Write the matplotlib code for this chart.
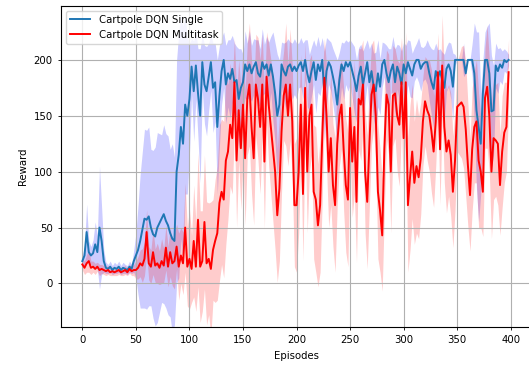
import matplotlib.pyplot as plt
import numpy as np

# Episode index (every second episode logged)
episodes = np.arange(0, 400, 2)

# Mean reward per logged episode
single_mean = [
    20, 25, 46, 28, 25, 27, 35, 28, 50, 38,
    20, 14, 13, 15, 12, 14, 13, 15, 12, 14,
    13, 12, 15, 13, 20, 25, 30, 38, 48, 58,
    57, 60, 50, 44, 42, 50, 54, 58, 62, 56,
    52, 45, 40, 38, 100, 115, 140, 125, 160, 150,
    165, 194, 172, 195, 170, 150, 198, 178, 172, 185,
    198, 175, 180, 140, 168, 190, 200, 178, 188, 183,
    192, 180, 182, 165, 175, 180, 196, 190, 196, 188,
    194, 198, 188, 185, 198, 192, 196, 186, 196, 185,
    170, 150, 160, 196, 190, 186, 194, 196, 190, 194,
    190, 195, 198, 190, 200, 188, 180, 190, 198, 182,
    196, 190, 200, 168, 190, 198, 194, 185, 175, 160,
    182, 196, 190, 198, 194, 198, 190, 182, 172, 186,
    194, 178, 188, 198, 180, 190, 176, 172, 188, 176,
    196, 200, 188, 180, 190, 196, 180, 194, 188, 178,
    196, 188, 198, 192, 186, 196, 200, 200, 192, 196,
    198, 198, 188, 180, 174, 190, 184, 190, 182, 175,
    192, 196, 190, 176, 200, 200, 200, 200, 200, 188,
    200, 200, 200, 188, 155, 140, 125, 170, 200, 200,
    188, 154, 155, 195, 190, 196, 193, 200, 198, 200,
]
multi_mean = [
    17, 14, 18, 20, 14, 15, 13, 15, 12, 13,
    12, 11, 12, 10, 11, 10, 11, 12, 10, 11,
    12, 10, 13, 11, 12, 12, 14, 18, 16, 22,
    46, 18, 15, 28, 16, 18, 14, 20, 16, 32,
    15, 28, 18, 20, 33, 15, 25, 18, 50, 15,
    22, 13, 38, 15, 57, 15, 20, 55, 18, 22,
    13, 30, 38, 45, 72, 82, 75, 110, 118, 142,
    130, 180, 110, 155, 121, 160, 112, 165, 178, 140,
    112, 178, 165, 140, 178, 109, 185, 160, 140, 120,
    100, 61, 85, 136, 168, 178, 150, 178, 145, 70,
    70, 100, 160, 80, 175, 100, 150, 160, 82, 75,
    52, 70, 130, 184, 150, 100, 130, 88, 70, 125,
    150, 160, 120, 88, 75, 157, 109, 140, 73, 165,
    160, 178, 100, 73, 124, 169, 178, 150, 82, 65,
    43, 120, 169, 160, 100, 168, 170, 150, 142, 180,
    130, 180, 70, 95, 118, 90, 105, 95, 112, 145,
    163, 155, 150, 136, 118, 145, 189, 120, 195, 140,
    118, 128, 115, 82, 110, 158, 160, 162, 158, 138,
    106, 79, 120, 140, 145, 110, 100, 82, 166, 176,
    150, 100, 130, 128, 125, 88, 118, 135, 140, 189,
]

# Standard deviation over runs
single_std = [
    5, 8, 25, 10, 8, 12, 20, 15, 55, 30,
    10, 5, 4, 5, 4, 5, 4, 5, 4, 5,
    4, 4, 5, 4, 10, 20, 40, 60, 70, 80,
    80, 80, 70, 75, 80, 85, 80, 75, 80, 78,
    80, 75, 85, 75, 100, 110, 100, 105, 80, 70,
    50, 25, 45, 30, 40, 60, 25, 35, 40, 30,
    25, 40, 35, 60, 45, 30, 25, 35, 30, 35,
    30, 35, 30, 45, 35, 25, 30, 25, 30, 25,
    25, 20, 30, 25, 30, 22, 25, 30, 25, 40,
    45, 55, 40, 20, 25, 30, 25, 20, 25, 25,
    25, 20, 22, 25, 18, 30, 25, 22, 20, 30,
    25, 22, 20, 40, 30, 20, 22, 25, 30, 40,
    25, 20, 25, 20, 22, 20, 25, 30, 28, 25,
    20, 30, 25, 20, 30, 25, 30, 35, 30, 25,
    20, 15, 25, 30, 20, 25, 30, 20, 25, 30,
    20, 25, 20, 25, 20, 15, 15, 20, 20, 15,
    15, 20, 25, 30, 35, 25, 25, 20, 25, 30,
    20, 20, 25, 30, 5, 0, 0, 0, 15, 0,
    0, 0, 15, 45, 70, 85, 45, 30, 25, 30,
    45, 50, 40, 20, 20, 15, 15, 10, 10, 5,
]
multi_std = [
    5, 6, 8, 10, 6, 5, 5, 4, 5, 4,
    4, 4, 4, 3, 4, 3, 4, 4, 3, 4,
    4, 3, 4, 4, 5, 8, 10, 12, 15, 15,
    20, 15, 15, 20, 15, 18, 15, 20, 15, 20,
    18, 22, 20, 25, 20, 30, 25, 28, 40, 35,
    45, 30, 50, 40, 60, 50, 45, 60, 55, 50,
    60, 45, 55, 60, 70, 65, 70, 75, 60, 55,
    50, 40, 60, 45, 55, 50, 60, 50, 55, 60,
    60, 45, 55, 60, 45, 60, 40, 55, 60, 65,
    70, 60, 65, 55, 40, 55, 45, 50, 50, 55,
    60, 55, 45, 60, 40, 55, 50, 45, 60, 65,
    55, 60, 55, 35, 45, 50, 60, 55, 60, 55,
    45, 40, 55, 60, 60, 40, 50, 60, 55, 45,
    50, 40, 55, 60, 55, 45, 40, 45, 60, 55,
    50, 55, 40, 45, 55, 45, 40, 50, 55, 40,
    50, 45, 60, 65, 60, 55, 60, 55, 50, 40,
    40, 45, 50, 55, 50, 40, 35, 50, 45, 50,
    55, 50, 55, 50, 45, 40, 45, 50, 55, 60,
    55, 50, 55, 50, 55, 60, 50, 40, 45, 55,
    50, 60, 55, 50, 55, 45, 50, 45, 40, 30,
]

single_mean = np.array(single_mean)
multi_mean = np.array(multi_mean)
single_std = np.array(single_std)
multi_std = np.array(multi_std)

plt.rcParams['font.size'] = 7.3

fig = plt.figure(figsize=(5.29, 3.67), dpi=100)
ax = fig.add_axes([0.1153, 0.1098, 0.8885, 0.8747])

ax.fill_between(episodes, single_mean - single_std, single_mean + single_std,
                color='b', alpha=0.2, linewidth=0)
ax.fill_between(episodes, multi_mean - multi_std, multi_mean + multi_std,
                color='r', alpha=0.2, linewidth=0)
ax.plot(episodes, single_mean, color='tab:blue', linewidth=1.4, label='Cartpole DQN Single')
ax.plot(episodes, multi_mean, color='r', linewidth=1.4, label='Cartpole DQN Multitask')

ax.set_xlim(-19.95, 418.95)
ax.set_ylim(-38.7, 248.5)
ax.set_xticks(np.arange(0, 401, 50))
ax.set_yticks(np.arange(0, 201, 50))
ax.grid(True, color='#b0b0b0', linewidth=0.8)
ax.tick_params(length=2.5, width=0.6)
for s in ax.spines.values():
    s.set_linewidth(0.8)

ax.set_xlabel('Episodes')
ax.set_ylabel('Reward')
ax.legend(loc='upper left')

fig.savefig('out.png', dpi=100)
